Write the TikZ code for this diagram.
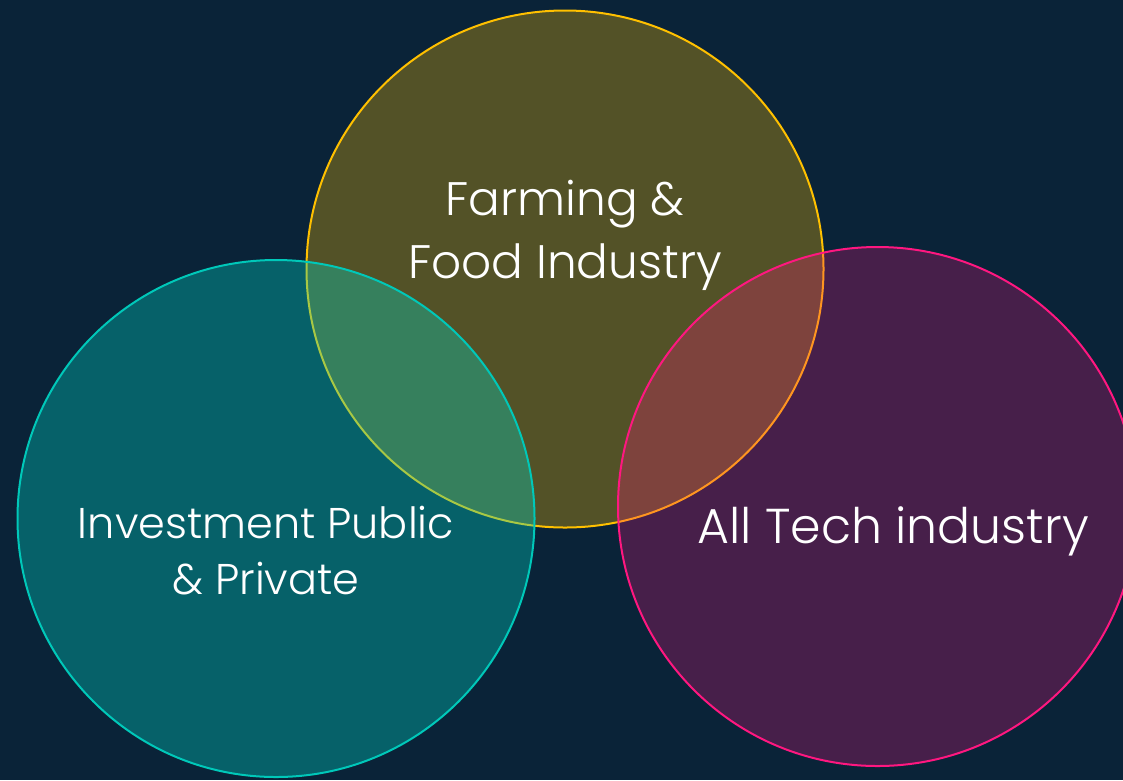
\documentclass[tikz,border=0pt]{standalone}
\usepackage{fontspec}
\setmainfont{Poppins Light}

\definecolor{bgnavy}{RGB}{10,35,56}
\definecolor{farmgold}{RGB}{255,192,0}
\definecolor{investteal}{RGB}{0,217,200}
\definecolor{investline}{RGB}{0,200,185}
\definecolor{techpink}{RGB}{255,23,128}

\begin{document}
\begin{tikzpicture}[
	x=1pt, y=-1pt,
	ring/.style={line width=2pt},
	lbl/.style={text=white, inner sep=0pt, anchor=base}
]
\useasboundingbox (0,0) rectangle (1123,780);
\clip (0,0) rectangle (1123,780);
\fill[bgnavy] (0,0) rectangle (1123,780);
% the three sets
\draw[ring, draw=farmgold, fill=farmgold, fill opacity=0.3] (565,269) circle (258.5);
\draw[ring, draw=investline, fill=investteal, fill opacity=0.34] (276,518.5) circle (258.5);
\draw[ring, draw=techpink, fill=techpink, fill opacity=0.25] (877.5,506.5) circle (259.5);
% labels
\node[lbl, font=\fontsize{47}{55}\selectfont] (farmA) at (565,215) {Farming \&};
\node[lbl, font=\fontsize{47}{55}\selectfont] (farmB) at (565,278) {Food Industry};
\node[lbl, font=\fontsize{43}{51}\selectfont] (investA) at (266,538) {Investment Public};
\node[lbl, font=\fontsize{43}{51}\selectfont] (investB) at (266,594) {\& Private};
\node[lbl, font=\fontsize{49}{57}\selectfont] (tech) at (893,543) {All Tech industry};
\end{tikzpicture}
\end{document}
